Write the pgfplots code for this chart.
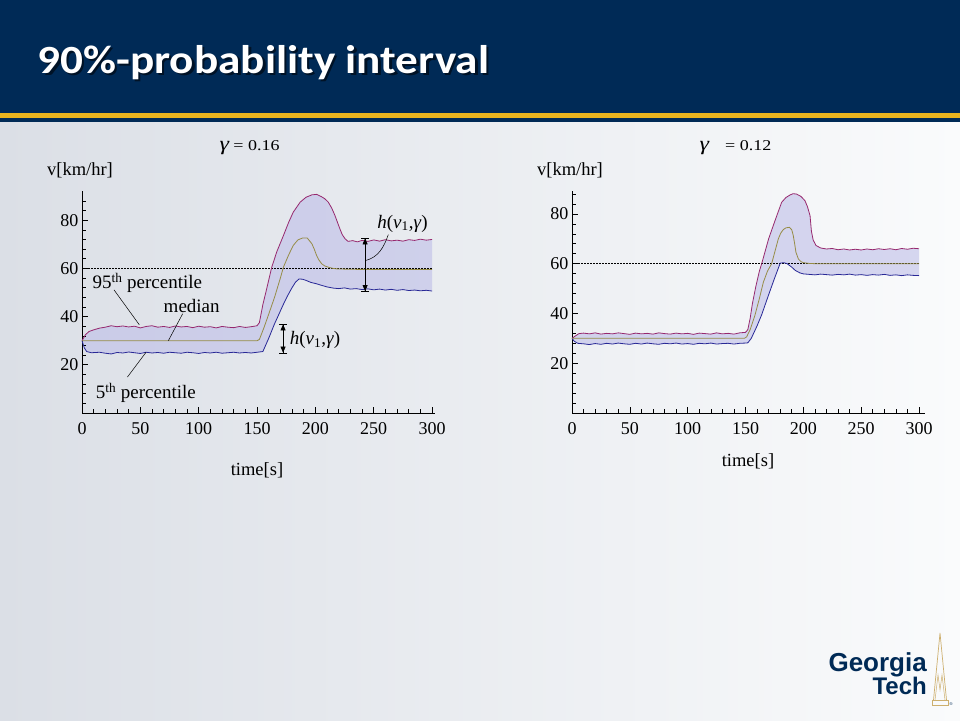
\documentclass[border=0pt]{standalone}
\usepackage{fontspec}
\setmainfont{Liberation Serif}
\newfontfamily\titlefont{Carlito}
\newfontfamily\logofont{Liberation Sans}
\usepackage{pgfplots}
\usepackage{pgfplotstable}
\pgfplotsset{compat=1.18}
\usepgfplotslibrary{fillbetween}
\usetikzlibrary{arrows.meta}

% slide background goes on its own layer, below everything pgfplots draws
\pgfdeclarelayer{slidebg}
\pgfdeclarelayer{axis background}
\pgfdeclarelayer{axis grid}
\pgfdeclarelayer{axis ticks}
\pgfdeclarelayer{axis lines}
\pgfdeclarelayer{axis tick labels}
\pgfdeclarelayer{pre main}
\pgfdeclarelayer{axis descriptions}
\pgfdeclarelayer{axis foreground}
\pgfplotsset{
  layers/slide/.define layer set={slidebg,axis background,axis grid,axis ticks,axis lines,axis tick labels,pre main,main,axis descriptions,axis foreground}{},
}

\definecolor{gtnavy}{RGB}{0,42,86}
\definecolor{gtgold}{RGB}{234,180,30}
\definecolor{spire}{RGB}{205,175,110}
\definecolor{upc}{RGB}{150,40,110}
\definecolor{loc}{RGB}{40,40,150}
\definecolor{medc}{RGB}{150,140,70}
\definecolor{band}{RGB}{190,190,232}
\definecolor{bgleft}{RGB}{219,223,230}
\definecolor{bgright}{RGB}{250,251,252}

% gamma = 0.16
\pgfplotstableread{
t v
0 30.0
3 32.5
6 33.8
10 34.5
15 35.2
20 35.6
25 36.2
30 35.8
35 36.1
40 35.7
45 36.0
50 35.3
55 35.9
60 36.2
65 35.6
70 35.9
75 35.5
80 36.1
85 35.7
90 35.9
95 35.4
100 36.0
105 35.6
110 35.8
115 35.3
120 35.9
125 35.6
130 35.4
135 35.9
140 35.5
145 35.8
150 36.2
152 37.5
155 45
158 51
162.6 60.5
167 67
172.6 73.6
177 79
181 83.3
187 87.5
192 89.5
197 90.5
201 90.7
205 89.8
208 88.9
211 87.5
214 85
216.7 82
219 79
221 76.4
223 74
225.4 72.3
228 71.2
232 71.5
236 71.0
240 71.6
245 71.2
250 71.8
255 71.3
260 71.9
265 71.4
270 71.7
275 71.3
280 71.9
285 71.6
290 72.1
295 71.7
300 72.0
}\upA
\pgfplotstableread{
t v
0 30
150 30
152 30.5
156 35.5
160 41
165 48
170 56
172.6 60.5
177 65.5
181 69.5
185 71.8
189 72.6
193 72.6
197 70.2
199 68
201 65.4
203 63.5
205.4 61.9
208 61
211 60.5
215 60
218 59.8
230 59.6
300 59.5
}\medA
\pgfplotstableread{
t v
0 30
2 27
4 25.5
8 25.0
15 25.2
20 24.8
25 24.5
30 25.1
35 24.9
40 25.3
45 25.0
50 24.7
55 25.2
60 24.9
65 25.1
70 24.8
75 25.2
80 25.0
85 24.8
90 25.2
95 25.0
100 24.7
105 25.1
110 24.9
115 25.2
120 24.8
125 25.0
130 25.2
135 24.9
140 25.1
145 24.9
150 25.2
155 25.5
160 31
165 37
168.3 40.5
172 44.5
176 48.5
180 52
183 54.3
186 55.6
189 55.5
192 55.0
196 54.2
201 53.6
205 53.0
210 52.3
215.5 51.8
220 51.6
225 51.9
230 51.4
235 51.6
240 51.2
245 51.5
250 51.1
255 51.4
260 51.0
265 51.3
270 50.9
275 51.2
280 50.8
285 51.0
290 50.7
295 50.9
300 50.6
}\loA

% gamma = 0.12
\pgfplotstableread{
t v
0 30.0
3 31.0
6 31.9
10 32.1
15 31.8
20 32.2
25 31.7
30 32.0
35 31.8
40 32.2
45 31.9
50 31.6
55 32.1
60 31.8
65 32.0
70 31.7
75 32.2
80 31.9
85 31.7
90 32.1
95 31.8
100 32.0
105 31.6
110 32.1
115 31.9
120 31.7
125 32.2
130 31.8
135 32.0
140 31.7
145 32.2
150 32.4
152 33.5
154 38
156 44
159 51
162 57
164 60
167 65
170 70
174 75.3
178 80.5
181.3 84.7
185 86.6
188.5 87.6
191 88.1
194 88.0
198 87.0
201.4 85.3
203.5 83
205.8 79.3
207 73
208.5 69.5
211 67.3
215 66.3
220 65.9
225 66.1
230 65.6
235 65.9
240 65.5
245 65.8
250 65.5
255 65.9
260 65.6
265 66.0
270 65.7
275 66.0
280 65.6
285 66.1
290 65.8
295 66.2
300 66.0
}\upB
\pgfplotstableread{
t v
0 30
149 30
151 30.6
154 33.5
158 39
162 46
165.4 52.5
169 57
172.6 60
175.5 65
178.4 70
180.5 72.3
182.7 73.7
185 74.4
188 74.6
190 73.6
191.3 71.3
192.5 68
193.6 64.6
195.7 61.9
198 60.8
200 60.4
205 60.1
210 60
300 60
}\medB
\pgfplotstableread{
t v
0 30
2 28.8
5 28.0
10 27.8
15 27.5
20 27.9
25 27.6
30 28.0
35 27.7
40 28.1
45 27.8
50 27.6
55 28.0
60 27.7
65 28.1
70 27.8
75 27.6
80 28.0
85 27.8
90 28.1
95 27.7
100 27.9
105 27.6
110 28.0
115 27.8
120 28.1
125 27.7
130 27.9
135 28.0
140 27.7
145 28.0
150 28.1
152 28.2
155 30
160 35
164 39.5
170 47.5
175 54
180 60.2
183 60.4
186 60.0
190 58.6
193 57.3
197 56.3
200 55.9
205 55.7
210 55.5
215 55.8
220 55.6
225 55.4
230 55.7
235 55.5
240 55.8
245 55.4
250 55.6
255 55.3
260 55.6
265 55.4
270 55.7
275 55.3
280 55.5
285 55.2
290 55.5
295 55.3
300 55.2
}\loB

\pgfplotsset{
  slide/.style={
    set layers=slide,
    scale only axis, width=353pt, height=222pt,
    anchor=south west, clip=false,
    axis lines*=left, xmin=0, ymin=0,
    xtick={0,50,...,300}, ytick={20,40,60,80},
    minor xtick={10,20,...,300}, minor ytick={4,8,...,88},
    tick align=inside, major tick length=6pt, minor tick length=3.5pt,
    tick style={black, line width=0.6pt},
    axis line style={black, line width=0.7pt},
    tick label style={font=\fontsize{18}{18}\selectfont},
    xticklabel style={yshift=-6pt},
    /pgf/number format/assume math mode=true,
  },
  up/.style={upc, line width=0.8pt},
  lo/.style={loc, line width=0.8pt},
  med/.style={medc, line width=0.8pt},
  ref/.style={black, line width=0.5pt, dash pattern=on 1.5pt off 1.5pt},
}

\begin{document}
\begin{tikzpicture}
\pgfsetlayers{slidebg,axis background,axis grid,axis ticks,axis lines,axis tick labels,pre main,main,axis descriptions,axis foreground}
\begin{pgfonlayer}{slidebg}
\shade[left color=bgleft, right color=bgright] (0pt,0pt) rectangle (960pt,599pt);
\fill[gtnavy] (0pt,598.3pt) rectangle (960pt,720pt);
\fill[gtgold] (0pt,602.3pt) rectangle (960pt,606.7pt);
\end{pgfonlayer}

\node[anchor=base west, text=black, opacity=0.55, font=\titlefont\bfseries\fontsize{40}{40}\selectfont] at (36.5pt,644.5pt) {\scalebox{1.13}[1]{90\%-probability interval}};
\node[anchor=base west, text=white, font=\titlefont\bfseries\fontsize{40}{40}\selectfont] at (34pt,646pt) {\scalebox{1.13}[1]{90\%-probability interval}};

% left: gamma = 0.16
\begin{axis}[slide, at={(82pt,307pt)}, xmax=302.5, ymax=92.1]
  \addplot[draw=none, name path=uA, forget plot] table[x=t, y=v] {\upA};
  \addplot[draw=none, name path=lA, forget plot] table[x=t, y=v] {\loA};
  \addplot[band, fill opacity=0.6, draw=none] fill between[of=uA and lA];
  \addplot[ref] coordinates {(0,60) (300,60)};
  \addplot[up] table[x=t, y=v] {\upA};
  \addplot[lo] table[x=t, y=v] {\loA};
  \addplot[med] table[x=t, y=v] {\medA};

  \draw[black, line width=0.6pt, {Bar[width=8pt]Triangle[width=5pt,length=6pt]}-{Triangle[width=5pt,length=6pt]Bar[width=8pt]}]
    (axis cs:242.6,72.7) -- (axis cs:242.6,50.3);
  \draw[black, line width=0.6pt, {Bar[width=8pt]Triangle[width=5pt,length=6pt]}-{Triangle[width=5pt,length=6pt]Bar[width=8pt]}]
    (axis cs:172.3,37) -- (axis cs:172.3,24.8);
  \draw[black, line width=0.5pt] (axis cs:262.5,74) to[out=-110, in=15] (axis cs:243.3,63.3);
  \node[font=\fontsize{19}{19}\selectfont] at (axis cs:274.7,78.6) {\textit{h}(\textit{v}\textsubscript{1},\textit{γ})};
  \node[font=\fontsize{19}{19}\selectfont] at (axis cs:199.7,30.4) {\textit{h}(\textit{v}\textsubscript{1},\textit{γ})};

  \node[font=\fontsize{19}{19}\selectfont] at (axis cs:56,54) {95\textsuperscript{th} percentile};
  \draw[black, line width=0.5pt] (axis cs:27.4,51.1) -- (axis cs:49.1,36.6);
  \node[font=\fontsize{19}{19}\selectfont] at (axis cs:94,44.2) {median};
  \draw[black, line width=0.5pt] (axis cs:86.3,41.2) -- (axis cs:74,30);
  \node[font=\fontsize{19}{19}\selectfont] at (axis cs:54.7,8.4) {5\textsuperscript{th} percentile};
  \draw[black, line width=0.5pt] (axis cs:38.9,14.9) -- (axis cs:54.9,25.2);
\end{axis}

% right: gamma = 0.12
\begin{axis}[slide, at={(572pt,307pt)}, xmax=305.2, ymax=89.2]
  \addplot[draw=none, name path=uB, forget plot] table[x=t, y=v] {\upB};
  \addplot[draw=none, name path=lB, forget plot] table[x=t, y=v] {\loB};
  \addplot[band, fill opacity=0.6, draw=none] fill between[of=uB and lB];
  \addplot[ref] coordinates {(0,60) (300,60)};
  \addplot[up] table[x=t, y=v] {\upB};
  \addplot[lo] table[x=t, y=v] {\loB};
  \addplot[med] table[x=t, y=v] {\medB};
\end{axis}

% titles and axis labels
\node[anchor=base west, font=\fontsize{15}{15}\selectfont] at (216pt,569pt) {\scalebox{1.2}[1]{{\fontsize{20}{20}\selectfont\itshape γ} = 0.16}};
\node[font=\fontsize{18.5}{18.5}\selectfont] at (80pt,550pt) {v[km/hr]};
\node[font=\fontsize{18.5}{18.5}\selectfont] at (257pt,250pt) {time[s]};
\node[anchor=base west, font=\fontsize{15}{15}\selectfont] at (696pt,569pt) {\scalebox{1.2}[1]{{\fontsize{20}{20}\selectfont\itshape γ}\hspace{0.9em}= 0.12}};
\node[font=\fontsize{18.5}{18.5}\selectfont] at (570pt,550pt) {v[km/hr]};
\node[font=\fontsize{18.5}{18.5}\selectfont] at (748pt,259pt) {time[s]};

% logo
\node[anchor=base east, inner sep=0pt, text=gtnavy, font=\logofont\bfseries\fontsize{26}{26}\selectfont] at (927pt,49pt) {Georgia};
\node[anchor=base east, inner sep=0pt, text=gtnavy, font=\logofont\bfseries\fontsize{24}{24}\selectfont] at (927pt,26pt) {Tech};
\draw[spire, line width=0.7pt] (933.5pt,20pt) -- (940pt,87pt) -- (946.5pt,20pt);
\draw[spire, line width=0.5pt] (935pt,20pt) -- (938pt,45pt) -- (940pt,30pt) -- (942pt,45pt) -- (945pt,20pt);
\draw[spire, line width=0.7pt] (932pt,15pt) rectangle (948pt,20pt);
\node[font=\logofont\fontsize{4}{4}\selectfont, text=gtnavy, inner sep=0pt] at (951pt,16pt) {®};
\end{tikzpicture}
\end{document}
